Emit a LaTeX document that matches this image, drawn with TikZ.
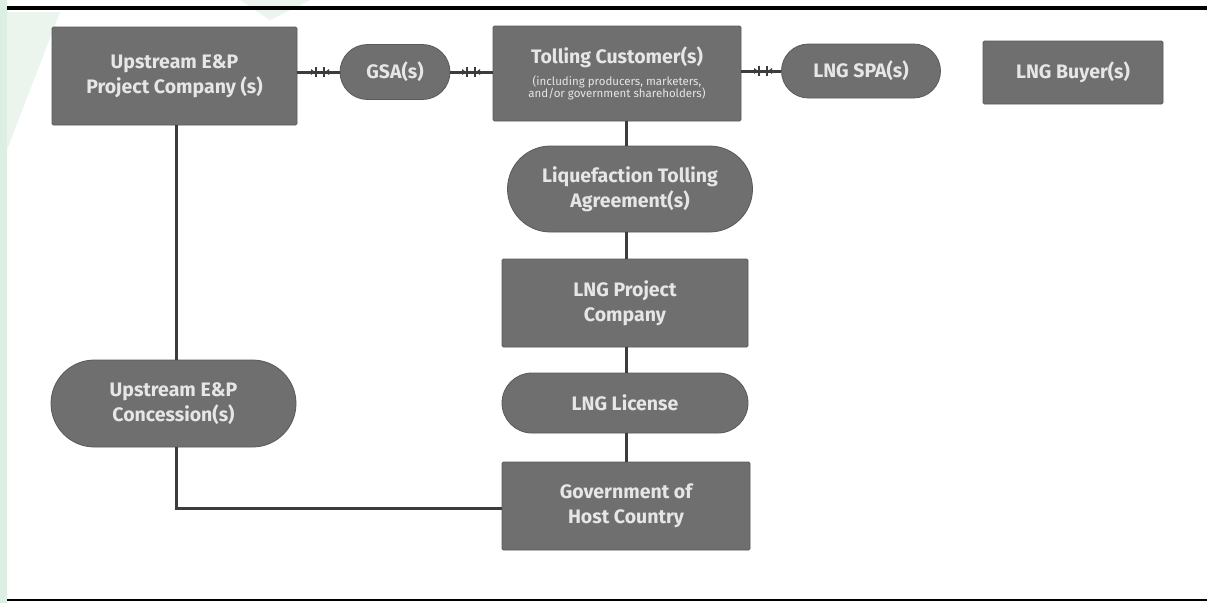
\documentclass[tikz,border=0pt]{standalone}
\usepackage{fontspec}
\setsansfont{Fira Sans}
\usetikzlibrary{shapes.misc}
\definecolor{boxgray}{HTML}{6F6F6F}
\definecolor{linegray}{HTML}{3C3C3C}
\definecolor{txtgray}{HTML}{E6E6E6}
\definecolor{wmgreen}{HTML}{DDEFE2}
\tikzset{
  base/.style={fill=boxgray, draw=boxgray!80!black, line width=0.8pt, text=txtgray,
    font=\sffamily\bfseries\fontsize{19.5}{25}\selectfont, align=center, inner sep=0pt},
  sqbox/.style={base, rectangle, minimum width=#1, rounded corners=1.5pt},
  sqbox/.default=245pt,
  pill/.style={base, rounded rectangle, minimum width=#1},
  pill/.default=245pt,
  link/.style={draw=linegray, line width=3pt},
  tick/.style={draw=linegray, line width=1.6pt}
}
\newcommand{\joint}[2]{%
  \draw[tick] (#1-4,#2-5) -- (#1-4,#2+5);
  \draw[tick] (#1+4,#2-5) -- (#1+4,#2+5);
  \fill[linegray] (#1-9,#2-3) -- (#1-5,#2) -- (#1-9,#2+3) -- cycle;
  \fill[linegray] (#1+9,#2-3) -- (#1+5,#2) -- (#1+9,#2+3) -- cycle;
}
\begin{document}
\begin{tikzpicture}[x=1pt,y=-1pt]
\useasboundingbox (0,0) rectangle (1207,603);
\fill[white] (0,0) rectangle (1207,603);
% faint green watermark
\fill[wmgreen] (0,0) rectangle (7,603);
\fill[wmgreen!60] (7,12) -- (60,12) -- (7,150) -- cycle;
\fill[wmgreen!60] (240,0) -- (310,0) -- (270,20) -- cycle;
% rules
\draw[black, line width=4pt] (7,8) -- (1207,8);
\draw[black, line width=2pt] (7,600) -- (1207,600);

% nodes
\node[sqbox, minimum height=98pt] (upc) at (174.5,76) {Upstream E\&P\\Project Company (s)};
\node[pill=110pt, minimum height=55pt] (gsa) at (395,72) {GSA(s)};
\node[sqbox=248pt, minimum height=95pt] (tc) at (617,73.5) {Tolling Customer(s)\\[-3pt]
  {\fontsize{11.5}{13}\selectfont\mdseries (including producers, marketers,}\\[-13pt]
  {\fontsize{11.5}{13}\selectfont\mdseries and/or government shareholders)}};
\node[pill=159pt, minimum height=54pt] (spa) at (861,71) {LNG SPA(s)};
\node[sqbox=180pt, minimum height=63pt] (buy) at (1073,72.5) {LNG Buyer(s)};
\node[pill=245pt, minimum height=86pt] (lta) at (630,189) {Liquefaction Tolling\\Agreement(s)};
\node[sqbox=246pt, minimum height=88pt] (lpc) at (625,303) {LNG Project\\Company};
\node[pill=246pt, minimum height=60pt] (lic) at (625,403) {LNG License};
\node[sqbox=248pt, minimum height=88pt] (gov) at (626,506) {Government of\\Host Country};
\node[pill=245pt, minimum height=87pt] (con) at (173.5,403.5) {Upstream E\&P\\Concession(s)};

\coordinate (corner) at (176,508);

% connectors
\draw[link] (upc.east |- gsa) -- (gsa.west);
\draw[link] (gsa.east) -- (tc.west |- gsa);
\draw[link] (tc.east |- spa) -- (spa.west);
\joint{320}{72}
\joint{471}{72}
\joint{763}{71}

\draw[link] (upc.south -| 176,0) -- (con.north -| 176,0);
\draw[link] (con.south -| 176,0) -- (corner) -- (gov.west |- corner);
\draw[link] (tc.south -| 626,0) -- (lta.north -| 626,0);
\draw[link] (lta.south -| 626,0) -- (lpc.north -| 626,0);
\draw[link] (lpc.south -| 626,0) -- (lic.north -| 626,0);
\draw[link] (lic.south -| 626,0) -- (gov.north -| 626,0);
\end{tikzpicture}
\end{document}
